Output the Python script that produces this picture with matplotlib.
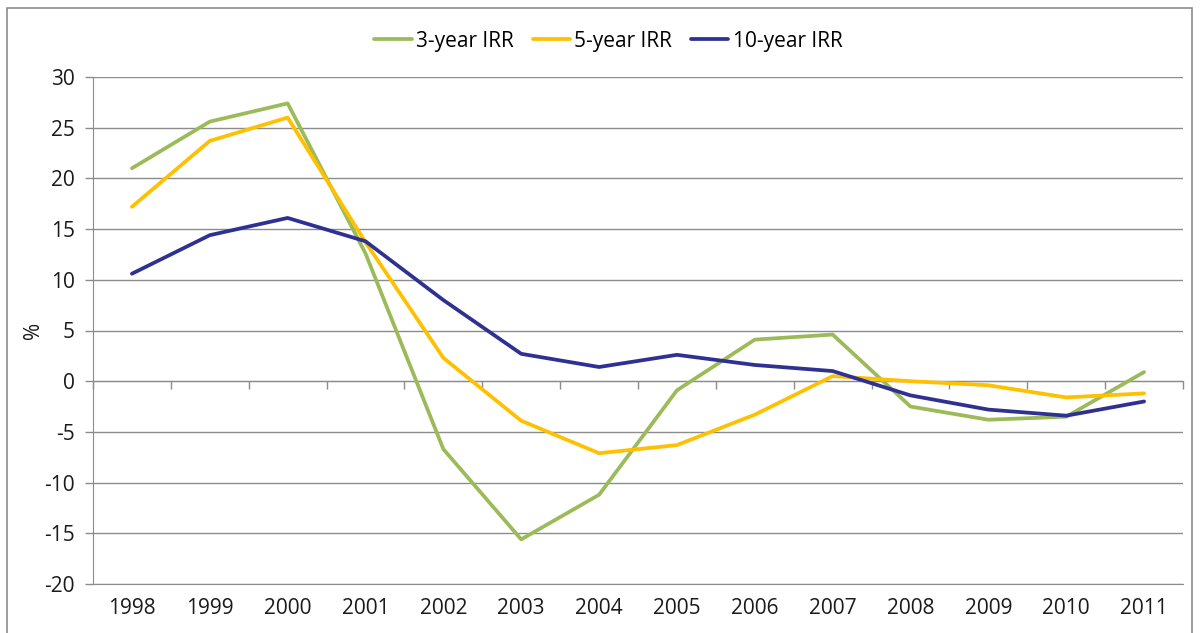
import matplotlib
matplotlib.use("Agg")
import matplotlib.pyplot as plt
from matplotlib.patches import Rectangle

years = ["1998", "1999", "2000", "2001", "2002", "2003", "2004",
         "2005", "2006", "2007", "2008", "2009", "2010", "2011"]
irr3 = [21.0, 25.6, 27.4, 12.6, -6.7, -15.6, -11.2, -0.9, 4.1, 4.6, -2.5, -3.8, -3.5, 0.9]
irr5 = [17.2, 23.7, 26.0, 13.7, 2.3, -3.9, -7.1, -6.3, -3.3, 0.5, 0.0, -0.4, -1.6, -1.2]
irr10 = [10.6, 14.4, 16.1, 13.8, 8.0, 2.7, 1.4, 2.6, 1.6, 1.0, -1.4, -2.8, -3.4, -2.0]
labels = ["3-year IRR", "5-year IRR", "10-year IRR"]
colors = ["#9BBB59", "#FFC000", "#2E3192"]

plt.rcParams['font.family'] = ['Open Sans', 'DejaVu Sans']
plt.rcParams['axes.unicode_minus'] = False
fs = 15
fig = plt.figure(figsize=(12, 6.33), dpi=100)
ax = fig.add_axes([93/1200, 1-584/633, 1090/1200, 507/633])

x = list(range(len(years)))
for vals, lab, c in zip([irr3, irr5, irr10], labels, colors):
    ax.plot(x, vals, color=c, lw=2.7, label=lab, solid_joinstyle='round', solid_capstyle='round')

ax.set_xlim(-0.5, len(years) - 0.5)
ax.set_ylim(-20, 30)
ax.set_yticks(range(-20, 31, 5))
ax.yaxis.grid(True, color="#8C8C8C", lw=1)
ax.set_axisbelow(True)
ax.set_xticks(x)
ax.set_xticklabels(years)
ax.tick_params(axis='x', length=0, pad=10, labelsize=fs, colors="#1a1a1a")
ax.tick_params(axis='y', length=6, width=1, color="#8C8C8C", labelsize=fs, labelcolor="#1a1a1a", pad=7)
for s in ['top', 'right']:
    ax.spines[s].set_visible(False)
ax.spines['left'].set_color("#8C8C8C")
ax.spines['bottom'].set_color("#8C8C8C")

sec = ax.secondary_xaxis(location=20/50)
sec.set_xticks([i - 0.5 for i in range(len(years) + 1)])
sec.set_xticklabels([])
sec.tick_params(axis='x', direction='out', length=6, width=1, color="#8C8C8C")
sec.spines['bottom'].set_color("#8C8C8C")

ax.set_ylabel("%", fontsize=fs, color="#1a1a1a", labelpad=0)

leg = fig.legend(loc='center', bbox_to_anchor=(0.507, 1-41/633), ncol=3, frameon=False,
                 fontsize=fs, handlelength=1.8, handletextpad=0.2, columnspacing=0.9)

fig.patches.append(Rectangle((7/1200, -0.02), 1185/1200, 1.02 - 8/633, transform=fig.transFigure,
                             fill=False, edgecolor="#8C8C8C", lw=1.2))

fig.savefig("out.png", dpi=100, facecolor="white")
